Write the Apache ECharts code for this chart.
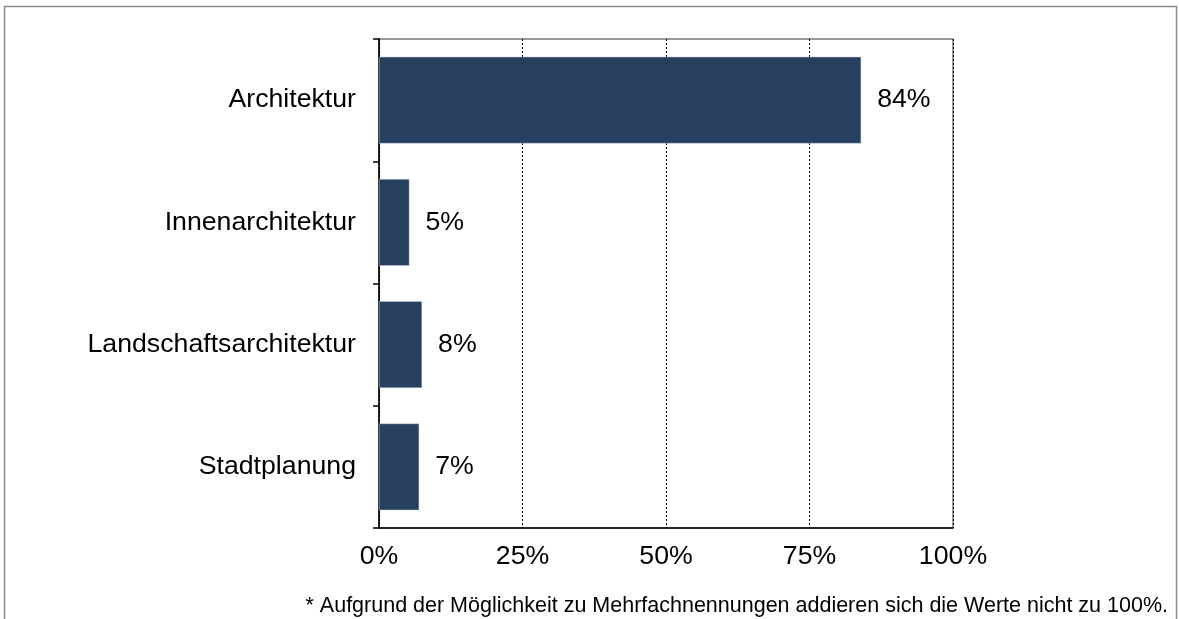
<!DOCTYPE html>
<html>
<head>
<meta charset="utf-8">
<script src="https://cdn.jsdelivr.net/npm/echarts@6/dist/echarts.min.js"></script>
<style>
html,body{margin:0;padding:0;background:#fff;}
#c{width:1179px;height:619px;}
</style>
</head>
<body>
<div id="c"></div>
<script>
const categories = ["Architektur", "Innenarchitektur", "Landschaftsarchitektur", "Stadtplanung"];
const values = [84, 5.3, 7.5, 7.0];
const valueLabels = ["84%", "5%", "8%", "7%"];
const xTicks = [0, 25, 50, 75, 100];
const footnote = "* Aufgrund der Möglichkeit zu Mehrfachnennungen addieren sich die Werte nicht zu 100%.";

const font = "'Liberation Sans', Arial, sans-serif";
const chart = echarts.init(document.getElementById('c'), null, {renderer: 'canvas'});
chart.setOption({
  animation: false,
  backgroundColor: '#ffffff',
  grid: {left: 379, right: 226, top: 39, bottom: 91, show: true, borderColor: '#333', borderWidth: 1, backgroundColor: 'transparent'},
  xAxis: {
    type: 'value', min: 0, max: 100, interval: 25,
    axisLine: {show: true, lineStyle: {color: '#000', width: 1.5}},
    axisTick: {show: false},
    axisLabel: {formatter: v => xTicks.includes(v) ? v + '%' : '', fontFamily: font, fontSize: 26.7, color: '#000', margin: 15},
    splitLine: {show: true, lineStyle: {color: '#000', type: [2, 2], width: 1}}
  },
  yAxis: {
    type: 'category', data: categories, inverse: true,
    axisLine: {show: true, lineStyle: {color: '#000', width: 1.5}},
    axisTick: {show: true, inside: false, length: 6, lineStyle: {color: '#000', width: 1.5}},
    axisLabel: {fontFamily: font, fontSize: 26.7, color: '#000', margin: 23},
    splitLine: {show: false}
  },
  series: [{
    type: 'bar',
    data: values,
    barCategoryGap: '29%',
    itemStyle: {color: '#27405f', borderColor: '#c8d0dc', borderWidth: 0.5},
    label: {
      show: true, position: 'right', distance: 16,
      formatter: p => valueLabels[p.dataIndex],
      fontFamily: font, fontSize: 26.7, color: '#000'
    }
  }],
  graphic: [
    {type: 'rect', shape: {x: 4.5, y: 6.5, width: 1172, height: 640}, style: {fill: 'none', stroke: '#8a8a8a', lineWidth: 1.5}, silent: true},
    {type: 'text', x: 1168, y: 606, style: {text: footnote, fontFamily: font, fontSize: 21.5, fill: '#000', textAlign: 'right', textVerticalAlign: 'middle'}}
  ]
});
</script>
</body>
</html>
